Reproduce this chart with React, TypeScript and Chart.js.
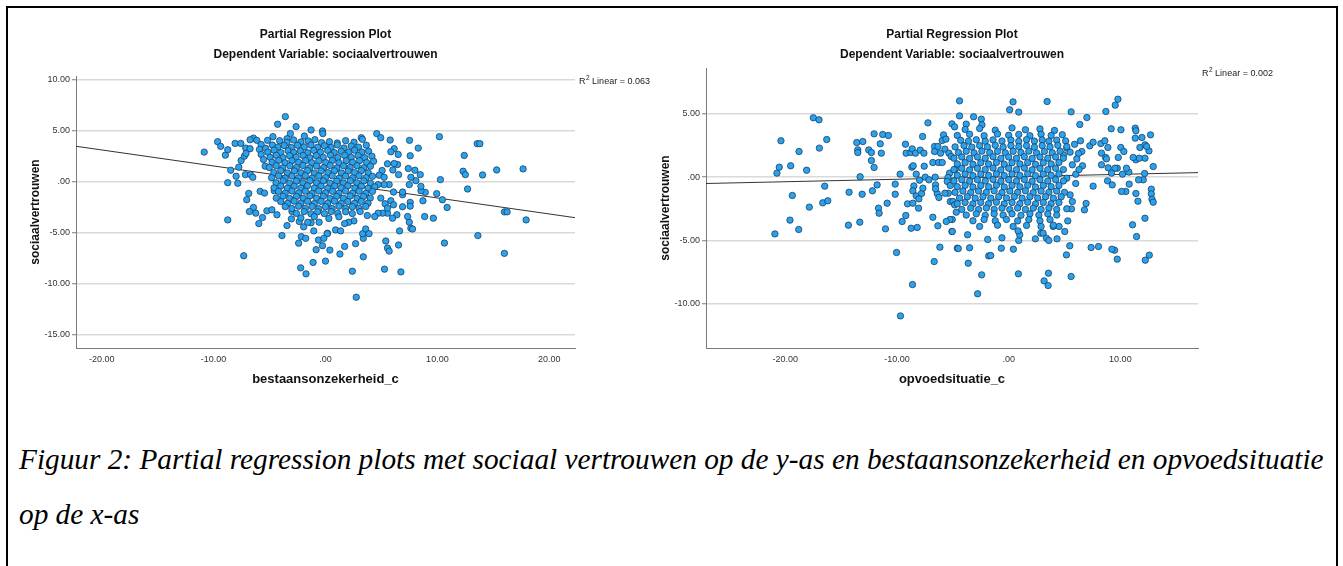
import React, { useEffect, useRef } from 'react';
import { Chart, registerables } from 'chart.js';

Chart.register(...registerables);

// ---------- text ----------
const chartTitle = 'Partial Regression Plot';
const chartSubtitle = 'Dependent Variable: sociaalvertrouwen';
const yAxisTitle = 'sociaalvertrouwen';
const xAxisTitle1 = 'bestaansonzekerheid_c';
const xAxisTitle2 = 'opvoedsituatie_c';
const r2Label1 = '0.063';
const r2Label2 = '0.002';
const captionLine1 =
  'Figuur 2: Partial regression plots met sociaal vertrouwen op de y-as en bestaansonzekerheid en opvoedsituatie';
const captionLine2 = 'op de x-as';

// ---------- axes ----------
const xTicks1 = [-20, -10, 0, 10, 20];
const yTicks1 = [10, 5, 0, -5, -10, -15];
const xRange1 = [-22.3, 22.3];
const yRange1 = [-16.28, 10.39];

const xTicks2 = [-20, -10, 0, 10];
const yTicks2 = [5, 0, -5, -10];
const xRange2 = [-27.1, 16.95];
const yRange2 = [-13.52, 8.64];

// ---------- fit lines (end points) ----------
const fitLine1 = [[-22.3, 3.5], [22.3, -3.5]];
const fitLine2 = [[-27.1, -0.5], [16.95, 0.36]];

// ---------- plot 1: bestaansonzekerheid_c vs sociaalvertrouwen ----------
const bestaansSpread = [
  [-10.84, 2.93], [-9.64, 3.95], [-9.37, 3.49], [-8.95, 2.63], [-8.74, 3.16], [-8.47, 1.15], [-8.74, -0.07],
  [-7.84, -0.13], [-7.99, 0.56], [-7.75, 1.45], [-7.54, 2.1], [-8.08, 3.78], [-7.57, 3.78], [-7.13, 3.32],
  [-6.74, 3.26], [-7.25, 2.53], [-7.1, 2.8], [-7.16, 0.72], [-6.7, 0.72], [-6.5, 0.46], [-6.44, 4.3],
  [-6.74, 4.14], [-6.14, 4.08], [-5.75, 3.68], [-5.9, 3.19], [-5.75, 2.7], [-5.54, 2.2], [-5.39, 1.55],
  [-6.86, -1.12], [-7.04, -1.74], [-6.44, -2.5], [-6.8, -2.9], [-8.74, -3.72], [-7.31, -7.24], [-5.96, -4.08],
  [-6.23, -3.06], [-5.63, -3.49], [-5.24, -2.83], [-4.79, -2.73], [-3.89, -5.26], [-4.34, -3.22], [-3.59, 6.41],
  [-4.28, 5.66], [-2.63, 5.43], [-1.29, 5.1], [-0.27, 5.0], [-1.89, 4.5], [-3.14, 4.74], [-3.44, 4.24],
  [-4.7, 4.44], [-5.18, 4.08], [-5.84, -0.92], [-5.45, -1.09], [-4.58, -0.86], [-2.4, -6.0], [-2.16, -5.36],
  [-1.77, -5.53], [-2.22, -8.42], [-1.74, -9.01], [-1.11, -7.89], [-0.84, -6.64], [-0.63, -5.69], [0.0, -7.76],
  [-0.27, -6.25], [0.18, -5.03], [-1.29, -4.0], [-1.05, -4.8], [-1.95, -4.4], [-1.59, -3.95], [-0.57, -3.95],
  [-3.0, -2.89], [-3.44, -4.28], [-3.05, -3.62], [-2.34, -3.88], [-0.24, 4.74],
  [3.2, 4.34], [4.58, 4.74], [4.94, 4.34], [5.78, 4.11], [7.51, 4.08], [10.18, 4.44], [13.56, 3.75],
  [13.8, 3.75], [8.29, 3.32], [6.14, 3.26], [5.84, 2.96], [6.5, 2.7], [7.57, 2.57], [12.4, 2.6],
  [12.3, 1.05], [12.5, 0.72], [14.04, 0.69], [15.3, 1.18], [17.66, 1.28], [12.7, -0.69], [10.27, 0.23],
  [9.94, -1.15], [10.45, -1.74], [10.87, -2.5], [9.64, -3.55], [8.86, -3.39], [15.99, -2.93], [16.23, -2.93],
  [17.93, -3.72], [13.62, -5.26], [10.63, -5.99], [15.99, -7.0], [2.75, -11.3], [2.4, -8.75], [5.27, -8.55],
  [6.74, -8.82], [3.38, -7.34], [2.69, -6.05], [1.29, -7.07], [0.39, -6.68], [1.71, -6.32], [5.39, -5.79],
  [5.54, -6.48], [5.69, -6.78], [6.53, -6.18], [6.62, -4.8], [3.38, -5.53], [3.32, -5.07], [3.59, -4.61],
  [3.89, -5.07], [0.9, -4.7], [1.35, -4.8], [0.15, -5.07], [-0.15, -5.53], [2.54, -3.82], [2.07, -3.95],
  [1.71, -4.08], [7.49, -3.95], [7.63, -4.54], [7.78, -4.61], [7.34, -3.39], [6.38, -3.22], [5.99, -3.55],
  [5.54, -3.06], [5.09, -3.06], [4.7, -3.06], [4.4, -3.39], [3.74, -3.29], [6.89, -2.43], [7.57, -2.0],
  [7.57, -2.37], [8.71, -1.84], [8.92, -1.02], [8.53, -0.86], [8.53, -0.43], [7.49, -0.26], [8.08, 0.13],
  [7.63, 0.46], [8.47, 0.72], [7.99, 1.15], [7.4, 1.32], [6.53, 0.72], [6.02, 1.18], [6.44, 1.71],
  [5.54, 1.78], [6.14, 1.81], [5.06, 1.12], [4.79, 0.66], [5.24, 0.46], [5.69, -0.26], [5.24, -0.26],
  [4.7, -0.26], [6.89, -1.25], [6.89, -0.99], [6.08, -0.99], [5.84, -1.84], [6.08, -2.24], [5.33, -2.14],
  [5.54, -2.57], [4.94, -1.58],
];

const bestaansCore = [
  [-4.1, 4.05], [-3.45, 3.88], [-2.85, 4.12], [-2.2, 3.92], [-1.55, 4.02], [-0.95, 4.15], [-0.35, 3.86], [0.35, 3.95],
  [1.05, 3.82], [1.8, 4.05], [2.55, 3.9], [3.3, 4.18],
  [-5.35, 3.3], [-4.75, 3.62], [-4.25, 3.42], [-3.7, 3.58], [-3.05, 3.38], [-2.5, 3.6], [-1.9, 3.43], [-1.3, 3.62],
  [-0.7, 3.4], [-0.1, 3.55], [0.5, 3.38], [1.05, 3.64], [1.65, 3.33], [2.3, 3.52], [2.95, 3.41], [3.65, 3.6],
  [-5.15, 2.92], [-4.6, 3.12], [-4.0, 2.88], [-3.35, 3.07], [-2.85, 2.9], [-2.25, 3.04], [-1.6, 2.86], [-1.05, 3.1],
  [-0.45, 2.92], [0.2, 3.08], [0.78, 2.88], [1.4, 3.02], [2.05, 2.9], [2.6, 3.12], [3.25, 2.93], [3.85, 3.02],
  [-4.95, 2.42], [-4.4, 2.61], [-3.8, 2.38], [-3.2, 2.58], [-2.62, 2.44], [-2.0, 2.6], [-1.4, 2.37], [-0.82, 2.58],
  [-0.2, 2.41], [0.45, 2.62], [1.1, 2.39], [1.72, 2.6], [2.3, 2.42], [2.92, 2.58], [3.5, 2.38], [4.15, 2.52],
  [-4.78, 1.93], [-4.18, 2.12], [-3.62, 1.88], [-3.0, 2.08], [-2.4, 1.92], [-1.78, 2.1], [-1.22, 1.88], [-0.6, 2.07],
  [0.02, 1.9], [0.62, 2.12], [1.2, 1.87], [1.85, 2.08], [2.42, 1.92], [3.05, 2.1], [3.68, 1.9], [4.3, 2.03],
  [-5.02, 1.42], [-4.4, 1.6], [-3.82, 1.38], [-3.18, 1.58], [-2.6, 1.41], [-2.02, 1.62], [-1.42, 1.38], [-0.8, 1.57],
  [-0.18, 1.4], [0.42, 1.61], [1.02, 1.37], [1.62, 1.58], [2.2, 1.42], [2.82, 1.6], [3.42, 1.39], [4.02, 1.55],
  [-4.62, 0.92], [-4.0, 1.1], [-3.4, 0.88], [-2.78, 1.08], [-2.2, 0.9], [-1.6, 1.12], [-1.0, 0.87], [-0.4, 1.08],
  [0.22, 0.91], [0.8, 1.1], [1.42, 0.88], [2.02, 1.07], [2.6, 0.92], [3.2, 1.11], [3.82, 0.9],
  [-4.82, 0.42], [-4.2, 0.6], [-3.6, 0.38], [-3.0, 0.58], [-2.42, 0.41], [-1.8, 0.62], [-1.2, 0.38], [-0.6, 0.58],
  [0.0, 0.42], [0.6, 0.6], [1.22, 0.37], [1.8, 0.58], [2.42, 0.4], [3.0, 0.61], [3.62, 0.42], [4.2, 0.55],
  [-4.42, -0.08], [-3.8, 0.1], [-3.2, -0.12], [-2.6, 0.08], [-2.02, -0.1], [-1.4, 0.12], [-0.8, -0.08], [-0.2, 0.1],
  [0.4, -0.12], [1.0, 0.08], [1.6, -0.1], [2.22, 0.11], [2.8, -0.08], [3.42, 0.1], [4.02, -0.12],
  [-4.6, -0.58], [-4.0, -0.4], [-3.4, -0.62], [-2.8, -0.42], [-2.2, -0.6], [-1.62, -0.38], [-1.0, -0.6], [-0.4, -0.41],
  [0.2, -0.62], [0.82, -0.4], [1.4, -0.58], [2.0, -0.38], [2.62, -0.6], [3.2, -0.42], [3.8, -0.61], [4.4, -0.48],
  [-4.2, -0.92], [-3.6, -1.1], [-3.0, -0.88], [-2.4, -1.08], [-1.8, -0.9], [-1.2, -1.12], [-0.6, -0.88], [0.0, -1.08],
  [0.62, -0.91], [1.2, -1.1], [1.8, -0.88], [2.42, -1.1], [3.0, -0.9], [3.6, -1.12], [4.2, -0.92],
  [-4.4, -1.58], [-3.8, -1.4], [-3.2, -1.62], [-2.6, -1.42], [-2.0, -1.6], [-1.4, -1.38], [-0.8, -1.6], [-0.2, -1.4],
  [0.42, -1.62], [1.0, -1.41], [1.6, -1.6], [2.2, -1.38], [2.82, -1.6], [3.4, -1.42], [4.0, -1.58],
  [-4.0, -1.92], [-3.4, -2.1], [-2.8, -1.88], [-2.2, -2.08], [-1.6, -1.9], [-1.0, -2.12], [-0.4, -1.9], [0.2, -2.08],
  [0.8, -1.88], [1.4, -2.1], [2.0, -1.92], [2.6, -2.1], [3.2, -1.9], [3.8, -2.08],
  [-3.6, -2.42], [-3.0, -2.6], [-2.4, -2.38], [-1.8, -2.6], [-1.2, -2.4], [-0.6, -2.62], [0.0, -2.42], [0.6, -2.6],
  [1.2, -2.38], [1.8, -2.6], [2.4, -2.42], [3.0, -2.58], [3.6, -2.4],
  [-2.6, -3.08], [-1.9, -2.9], [-1.3, -3.12], [-0.7, -2.92], [-0.1, -3.1], [0.5, -2.9], [1.1, -3.08], [1.8, -2.92],
  [2.4, -3.1], [3.1, -2.9],
  [-2.2, -3.52], [-1.0, -3.4], [0.3, -3.58], [1.2, -3.42],
];

// ---------- plot 2: opvoedsituatie_c vs sociaalvertrouwen ----------
const opvoedSpread = [
  [-20.93, -4.49], [-20.75, 0.32], [-20.54, 0.79], [-20.39, 2.88], [-19.52, 0.9], [-19.37, -1.45], [-19.58, -3.4],
  [-18.8, -4.14], [-18.77, 2.03], [-18.09, 0.55], [-17.85, -2.37], [-17.49, 4.7], [-16.98, 4.54], [-16.95, 2.3],
  [-16.29, 2.98], [-16.47, -0.71], [-16.65, -2.03], [-16.2, -1.87], [-14.35, -3.8], [-14.29, -1.19], [-13.33, -3.56],
  [-13.12, -1.35], [-13.3, 0.03], [-13.6, 2.74], [-13.06, 2.82], [-13.51, 2.16], [-13.51, 1.95], [-12.53, 2.16],
  [-12.29, 1.95], [-12.29, 1.32], [-12.05, 3.43], [-12.05, 0.77], [-11.5, 2.64], [-11.4, 1.9], [-11.28, 3.38],
  [-10.77, 3.3], [-11.78, -0.61], [-12.2, -1.08], [-11.66, -2.45], [-11.6, -2.85], [-10.88, -2.06], [-11.03, -4.09],
  [-10.16, -0.55], [-10.16, -1.35], [-9.72, 0.24], [-10.04, -5.96], [-9.69, -10.98], [-8.61, -8.5], [-9.54, -3.51],
  [-9.21, -3.03], [-9.06, -2.11], [-8.73, -4.04], [-8.19, -3.98], [-8.07, -2.45], [-9.24, 2.61], [-9.18, 1.9],
  [-8.76, 1.95], [-8.64, 2.24], [-8.34, 1.9], [-7.92, 2.14], [-7.59, 1.9], [-7.71, 3.22], [-7.23, 4.3],
  [-8.67, 0.79], [-8.55, 0.9], [-8.28, 0.24], [-7.98, -0.24], [-8.49, -0.69], [-8.58, -1.08], [-8.28, -1.48],
  [-7.8, -1.29], [-7.68, -0.87], [-8.04, -1.72], [-8.58, -2.06], [-7.56, 0.87], [-7.47, 0.0], [-7.14, -0.21],
  [-6.79, 1.16], [-6.79, -3.17], [-6.34, -3.85], [-6.16, -5.54], [-6.67, -6.68], [-6.58, 0.0], [-6.55, -0.61],
  [-6.4, -1.29], [-6.25, -1.61], [-6.55, -0.92], [-6.64, 2.43], [-6.34, 2.43], [-6.64, 2.03], [-6.1, 1.9],
  [-6.28, 1.16], [-5.95, 1.16], [-5.95, 2.9], [-5.83, 3.35], [-5.62, 3.01], [-5.71, 2.22], [-5.35, 1.9],
  [-5.14, 1.64], [-5.08, 4.22], [-4.84, 3.98], [-5.29, 0.32], [-5.44, -0.03], [-5.5, -0.34], [-5.23, -0.66],
  [-5.41, -1.27], [-5.71, -1.27], [-5.23, -1.93], [-4.99, -1.93], [-4.84, -2.19], [-4.69, -2.77], [-5.05, -3.35],
  [-5.26, -3.35], [-5.59, -3.51], [-5.08, -4.3], [-4.6, -5.62], [-4.78, 0.63], [-4.4, 6.04], [-4.4, 4.85],
  [0.39, 5.96], [0.09, 5.33], [0.9, 5.15], [3.44, 5.99], [5.59, 5.17], [8.7, 5.2], [9.54, 5.7],
  [9.78, 6.17], [7.0, 4.72], [6.37, 4.17], [9.18, 3.83], [10.05, 3.75], [11.33, 3.88], [11.39, 3.67],
  [12.7, 3.35], [11.93, 3.14], [11.33, 3.09], [11.75, 2.35], [12.2, 2.56], [12.56, 2.08], [12.35, 2.43],
  [12.94, 0.84], [12.2, 1.5], [11.39, 1.37], [11.69, 1.5], [12.17, 0.29], [12.05, -0.21], [11.63, -0.21],
  [10.76, 0.4], [10.55, 0.71], [10.19, 0.24], [9.72, 0.71], [9.51, 0.71], [10.79, -0.55], [10.49, -1.13],
  [10.1, -1.13], [11.39, -1.29], [11.57, -1.9], [12.77, -0.95], [12.77, -1.32], [12.83, -1.74], [12.94, -1.98],
  [12.2, -3.25], [11.09, -3.77], [11.45, -4.7], [12.23, -6.57], [12.59, -6.17], [9.72, -6.49], [9.48, -5.78],
  [9.24, -5.7], [8.04, -5.49], [7.38, -5.57], [7.56, -0.71], [6.93, -2.08], [6.78, -2.59], [5.47, -5.43],
  [5.17, -6.15], [5.59, -7.86], [3.17, -8.21], [3.53, -8.58], [3.56, -7.6], [0.87, -7.65], [-2.78, -9.23],
  [-2.42, -7.73], [-1.79, -6.23], [-1.61, -6.2], [-3.62, -6.81], [-3.5, -5.59], [-4.51, -5.65], [-5.05, -4.3],
  [-3.68, -4.56], [-1.88, -4.93], [-0.6, -4.8], [0.42, -5.7], [-0.66, -5.62], [0.9, -5.01], [0.99, -4.56],
  [0.84, -4.25], [2.39, -4.88], [2.87, -4.43], [3.08, -4.43], [3.38, -4.83], [3.59, -5.01], [4.33, -4.88],
  [3.98, -3.9], [4.51, -3.9], [5.02, -4.3], [5.29, -3.46], [5.62, -2.51], [-3.14, 4.78], [-2.45, 4.59],
  [-2.39, 4.14], [-3.8, 4.2], [7.26, 2.48], [7.56, 2.77], [8.25, 2.66], [8.61, 2.88], [8.88, 2.35],
  [8.31, 1.9], [8.67, 1.56], [8.31, 0.98], [8.91, 0.74], [8.85, -0.29], [9.27, -0.61], [10.04, 2.35],
  [10.31, 2.03], [11.15, 1.56], [8.76, 1.45], [9.21, 0.32], [9.81, 1.56], [6.55, 2.03], [6.25, 1.87],
  [6.61, 0.9], [6.01, 0.24], [6.43, 2.88], [5.2, 2.3], [5.5, 1.98], [4.9, 1.77], [5.7, 0.98],
  [5.2, -0.08], [5.5, -1.4], [5.7, -1.93], [5.2, -2.5], [6.1, 1.45], [5.9, 2.6], [6.0, -0.5], [6.3, 0.6],
];

const opvoedCore = [
  [-3.9, 3.78], [-2.6, 3.85], [-1.2, 3.72], [0.3, 3.9], [1.5, 3.75], [2.8, 3.82], [4.1, 3.7],
  [-4.6, 3.3], [-3.5, 3.4], [-2.2, 3.28], [-1.0, 3.42], [0.0, 3.32], [0.9, 3.38], [1.9, 3.28], [2.9, 3.4], [3.8, 3.3], [4.8, 3.36],
  [-4.3, 2.92], [-3.6, 2.85], [-2.9, 2.96], [-2.1, 2.84], [-1.4, 2.95], [-0.6, 2.86], [0.2, 2.94], [0.9, 2.83],
  [1.6, 2.97], [2.3, 2.86], [3.0, 2.95], [3.6, 2.84], [4.3, 2.93], [5.1, 2.87],
  [-4.8, 2.4], [-4.0, 2.5], [-3.3, 2.38], [-2.6, 2.5], [-1.9, 2.4], [-1.2, 2.52], [-0.5, 2.38], [0.2, 2.5],
  [0.9, 2.42], [1.6, 2.5], [2.3, 2.37], [3.0, 2.5], [3.7, 2.4], [4.4, 2.52], [5.2, 2.42],
  [-4.5, 1.95], [-3.8, 2.05], [-3.1, 1.92], [-2.4, 2.06], [-1.7, 1.94], [-1.0, 2.04], [-0.3, 1.92], [0.4, 2.05],
  [1.1, 1.95], [1.8, 2.06], [2.5, 1.92], [3.2, 2.04], [3.9, 1.93], [4.6, 2.06],
  [-4.9, 1.5], [-4.2, 1.6], [-3.5, 1.48], [-2.8, 1.6], [-2.1, 1.5], [-1.4, 1.62], [-0.7, 1.48], [0.0, 1.6],
  [0.7, 1.5], [1.4, 1.62], [2.1, 1.48], [2.8, 1.6], [3.5, 1.5], [4.2, 1.6], [4.9, 1.5],
  [-4.6, 1.05], [-3.9, 1.15], [-3.2, 1.02], [-2.5, 1.14], [-1.8, 1.04], [-1.1, 1.16], [-0.4, 1.03], [0.3, 1.14],
  [1.0, 1.05], [1.7, 1.15], [2.4, 1.02], [3.1, 1.14], [3.8, 1.05], [4.5, 1.16],
  [-4.9, 0.6], [-4.2, 0.7], [-3.5, 0.58], [-2.8, 0.7], [-2.1, 0.6], [-1.4, 0.72], [-0.7, 0.58], [0.0, 0.7],
  [0.7, 0.6], [1.4, 0.72], [2.1, 0.58], [2.8, 0.7], [3.5, 0.6], [4.2, 0.7], [4.9, 0.6],
  [-4.6, 0.15], [-3.9, 0.25], [-3.2, 0.12], [-2.5, 0.24], [-1.8, 0.14], [-1.1, 0.26], [-0.4, 0.13], [0.3, 0.25],
  [1.0, 0.14], [1.7, 0.26], [2.4, 0.12], [3.1, 0.24], [3.8, 0.15], [4.5, 0.25],
  [-4.9, -0.3], [-4.2, -0.2], [-3.5, -0.32], [-2.8, -0.2], [-2.1, -0.3], [-1.4, -0.18], [-0.7, -0.32], [0.0, -0.2],
  [0.7, -0.3], [1.4, -0.18], [2.1, -0.32], [2.8, -0.2], [3.5, -0.3], [4.2, -0.2], [4.9, -0.3],
  [-4.6, -0.75], [-3.9, -0.65], [-3.2, -0.78], [-2.5, -0.66], [-1.8, -0.76], [-1.1, -0.64], [-0.4, -0.77], [0.3, -0.65],
  [1.0, -0.76], [1.7, -0.64], [2.4, -0.78], [3.1, -0.66], [3.8, -0.75], [4.5, -0.65],
  [-4.8, -1.2], [-4.1, -1.1], [-3.4, -1.22], [-2.7, -1.1], [-2.0, -1.2], [-1.3, -1.08], [-0.6, -1.22], [0.1, -1.1],
  [0.8, -1.2], [1.5, -1.08], [2.2, -1.22], [2.9, -1.1], [3.6, -1.2], [4.3, -1.1], [5.0, -1.2],
  [-4.4, -1.65], [-3.7, -1.55], [-3.0, -1.66], [-2.3, -1.54], [-1.6, -1.66], [-0.9, -1.55], [-0.2, -1.65], [0.5, -1.54],
  [1.2, -1.66], [1.9, -1.55], [2.6, -1.65], [3.3, -1.54], [4.0, -1.66], [4.7, -1.55],
  [-4.6, -2.1], [-3.9, -2.0], [-3.2, -2.12], [-2.5, -2.0], [-1.8, -2.1], [-1.1, -1.98], [-0.4, -2.12], [0.3, -2.0],
  [1.0, -2.1], [1.7, -1.98], [2.4, -2.12], [3.1, -2.0], [3.8, -2.1], [4.5, -2.0],
  [-4.2, -2.55], [-3.4, -2.45], [-2.7, -2.56], [-2.0, -2.44], [-1.3, -2.55], [-0.6, -2.45], [0.1, -2.56], [0.8, -2.44],
  [1.5, -2.55], [2.2, -2.45], [2.9, -2.56], [3.6, -2.44], [4.3, -2.55],
  [-3.8, -3.0], [-2.9, -2.9], [-2.1, -3.02], [-1.3, -2.9], [-0.5, -3.0], [0.3, -2.9], [1.1, -3.02], [1.9, -2.9],
  [2.7, -3.0], [3.5, -2.9], [4.3, -3.0],
  [-3.2, -3.45], [-2.2, -3.35], [-1.2, -3.45], [-0.2, -3.35], [0.8, -3.46], [1.8, -3.35], [2.8, -3.45], [3.7, -3.36],
  [-2.6, -3.9], [-1.0, -3.8], [0.4, -3.9], [1.6, -3.82], [2.9, -3.9], [4.0, -3.8],
];

const SANS = '"Liberation Sans", Arial, Helvetica, sans-serif';

type PlotProps = {
  points: number[][];
  fit: number[][];
  xTicks: number[];
  yTicks: number[];
  xRange: number[];
  yRange: number[];
  xTitle: string;
  r2: string;
  left: number;
  width: number;
  height: number;
  areaLeft: number;
  areaTop: number;
  areaRight: number;
  areaBottom: number;
};

function fmt(v: number): string {
  if (v === 0) return '.00';
  return v.toFixed(2);
}

function PartialPlot(p: PlotProps) {
  const ref = useRef<HTMLCanvasElement>(null);
  useEffect(() => {
    const canvas = ref.current;
    if (!canvas) return;
    const overlay = {
      id: 'overlay',
      afterDraw(chart: any) {
        const ctx = chart.ctx as CanvasRenderingContext2D;
        const a = chart.chartArea;
        const cx = (a.left + a.right) / 2;
        ctx.save();
        ctx.fillStyle = '#111';
        ctx.textAlign = 'center';
        ctx.textBaseline = 'middle';
        ctx.font = `bold 12px ${SANS}`;
        ctx.fillText(chartTitle, cx, 35);
        ctx.fillText(chartSubtitle, cx, 55);
        ctx.font = `bold 13px ${SANS}`;
        ctx.fillText(p.xTitle, cx, 379);
        ctx.save();
        ctx.translate(a.left - 40, (a.top + a.bottom) / 2);
        ctx.rotate(-Math.PI / 2);
        ctx.font = `bold 12px ${SANS}`;
        ctx.fillText(yAxisTitle, 0, 0);
        ctx.restore();
        // R^2 label
        ctx.textAlign = 'left';
        ctx.textBaseline = 'alphabetic';
        ctx.fillStyle = '#222';
        let x = a.right + 4;
        const y = a.top + 8;
        ctx.font = `9px ${SANS}`;
        ctx.fillText('R', x, y);
        x += ctx.measureText('R').width + 0.5;
        ctx.font = `6.5px ${SANS}`;
        ctx.fillText('2', x, y - 4);
        x += ctx.measureText('2').width;
        ctx.font = `9px ${SANS}`;
        ctx.fillText(' Linear = ' + p.r2, x, y);
        ctx.restore();
      },
    };
    const chart = new Chart(canvas, {
      type: 'scatter',
      data: {
        datasets: [
          {
            type: 'scatter',
            data: p.points.map(([x, y]) => ({ x, y })),
            pointRadius: 3.2,
            pointBackgroundColor: '#2aa2ee',
            pointBorderColor: '#1a3a58',
            pointBorderWidth: 0.75,
            order: 1,
          } as any,
          {
            type: 'line',
            data: p.fit.map(([x, y]) => ({ x, y })),
            borderColor: '#333333',
            borderWidth: 1,
            pointRadius: 0,
            fill: false,
            order: 2,
          } as any,
        ],
      },
      options: {
        responsive: false,
        animation: false,
        events: [],
        layout: {
          padding: { left: 0, top: p.areaTop, right: p.width - p.areaRight, bottom: 0 },
        },
        plugins: {
          legend: { display: false },
          tooltip: { enabled: false },
          title: { display: false },
        },
        scales: {
          x: {
            type: 'linear',
            min: p.xRange[0],
            max: p.xRange[1],
            afterBuildTicks: (s: any) => {
              s.ticks = p.xTicks.map((v) => ({ value: v }));
            },
            afterFit: (s: any) => {
              s.height = p.height - p.areaBottom;
            },
            grid: { display: false, drawTicks: false },
            border: { display: true, color: '#7a7a7a', width: 1 },
            ticks: {
              font: { size: 9, family: SANS },
              color: '#333',
              padding: 6,
              maxRotation: 0,
              autoSkip: false,
              callback: (v: any) => fmt(Number(v)),
            },
          },
          y: {
            type: 'linear',
            min: p.yRange[0],
            max: p.yRange[1],
            afterBuildTicks: (s: any) => {
              s.ticks = p.yTicks.map((v) => ({ value: v }));
            },
            afterFit: (s: any) => {
              s.width = p.areaLeft;
            },
            grid: {
              color: '#d9d9d9',
              lineWidth: 1.5,
              drawTicks: true,
              tickLength: 4,
              tickColor: '#7a7a7a',
              tickWidth: 1,
            },
            border: { display: true, color: '#7a7a7a', width: 1 },
            ticks: {
              font: { size: 9, family: SANS },
              color: '#333',
              padding: 2,
              autoSkip: false,
              callback: (v: any) => fmt(Number(v)),
            },
          },
        },
      } as any,
      plugins: [overlay],
    });
    return () => chart.destroy();
  }, []);
  return (
    <canvas
      ref={ref}
      width={p.width}
      height={p.height}
      style={{ position: 'absolute', left: p.left, top: 0, width: p.width, height: p.height }}
    />
  );
}

export default function App() {
  const captionStyle: React.CSSProperties = {
    position: 'absolute',
    left: 19,
    fontFamily: '"Liberation Serif", "Times New Roman", Times, serif',
    fontStyle: 'italic',
    fontSize: 29.3,
    lineHeight: '29px',
    whiteSpace: 'nowrap',
    color: '#000',
  };
  return (
    <div
      style={{
        position: 'fixed',
        left: 0,
        top: 0,
        width: 1343,
        height: 566,
        overflow: 'hidden',
        background: '#fff',
      }}
    >
      <div
        style={{
          position: 'absolute',
          left: 6,
          top: 6,
          width: 1332,
          height: 640,
          boxSizing: 'border-box',
          border: '2px solid #000',
        }}
      />
      <PartialPlot
        points={[...bestaansSpread, ...bestaansCore]}
        fit={fitLine1}
        xTicks={xTicks1}
        yTicks={yTicks1}
        xRange={xRange1}
        yRange={yRange1}
        xTitle={xAxisTitle1}
        r2={r2Label1}
        left={0}
        width={660}
        height={400}
        areaLeft={76}
        areaTop={76}
        areaRight={575}
        areaBottom={348}
      />
      <PartialPlot
        points={[...opvoedSpread, ...opvoedCore]}
        fit={fitLine2}
        xTicks={xTicks2}
        yTicks={yTicks2}
        xRange={xRange2}
        yRange={yRange2}
        xTitle={xAxisTitle2}
        r2={r2Label2}
        left={626}
        width={704}
        height={400}
        areaLeft={80}
        areaTop={68}
        areaRight={572}
        areaBottom={348}
      />
      <div style={{ ...captionStyle, top: 445 }}>{captionLine1}</div>
      <div style={{ ...captionStyle, top: 500 }}>{captionLine2}</div>
    </div>
  );
}
